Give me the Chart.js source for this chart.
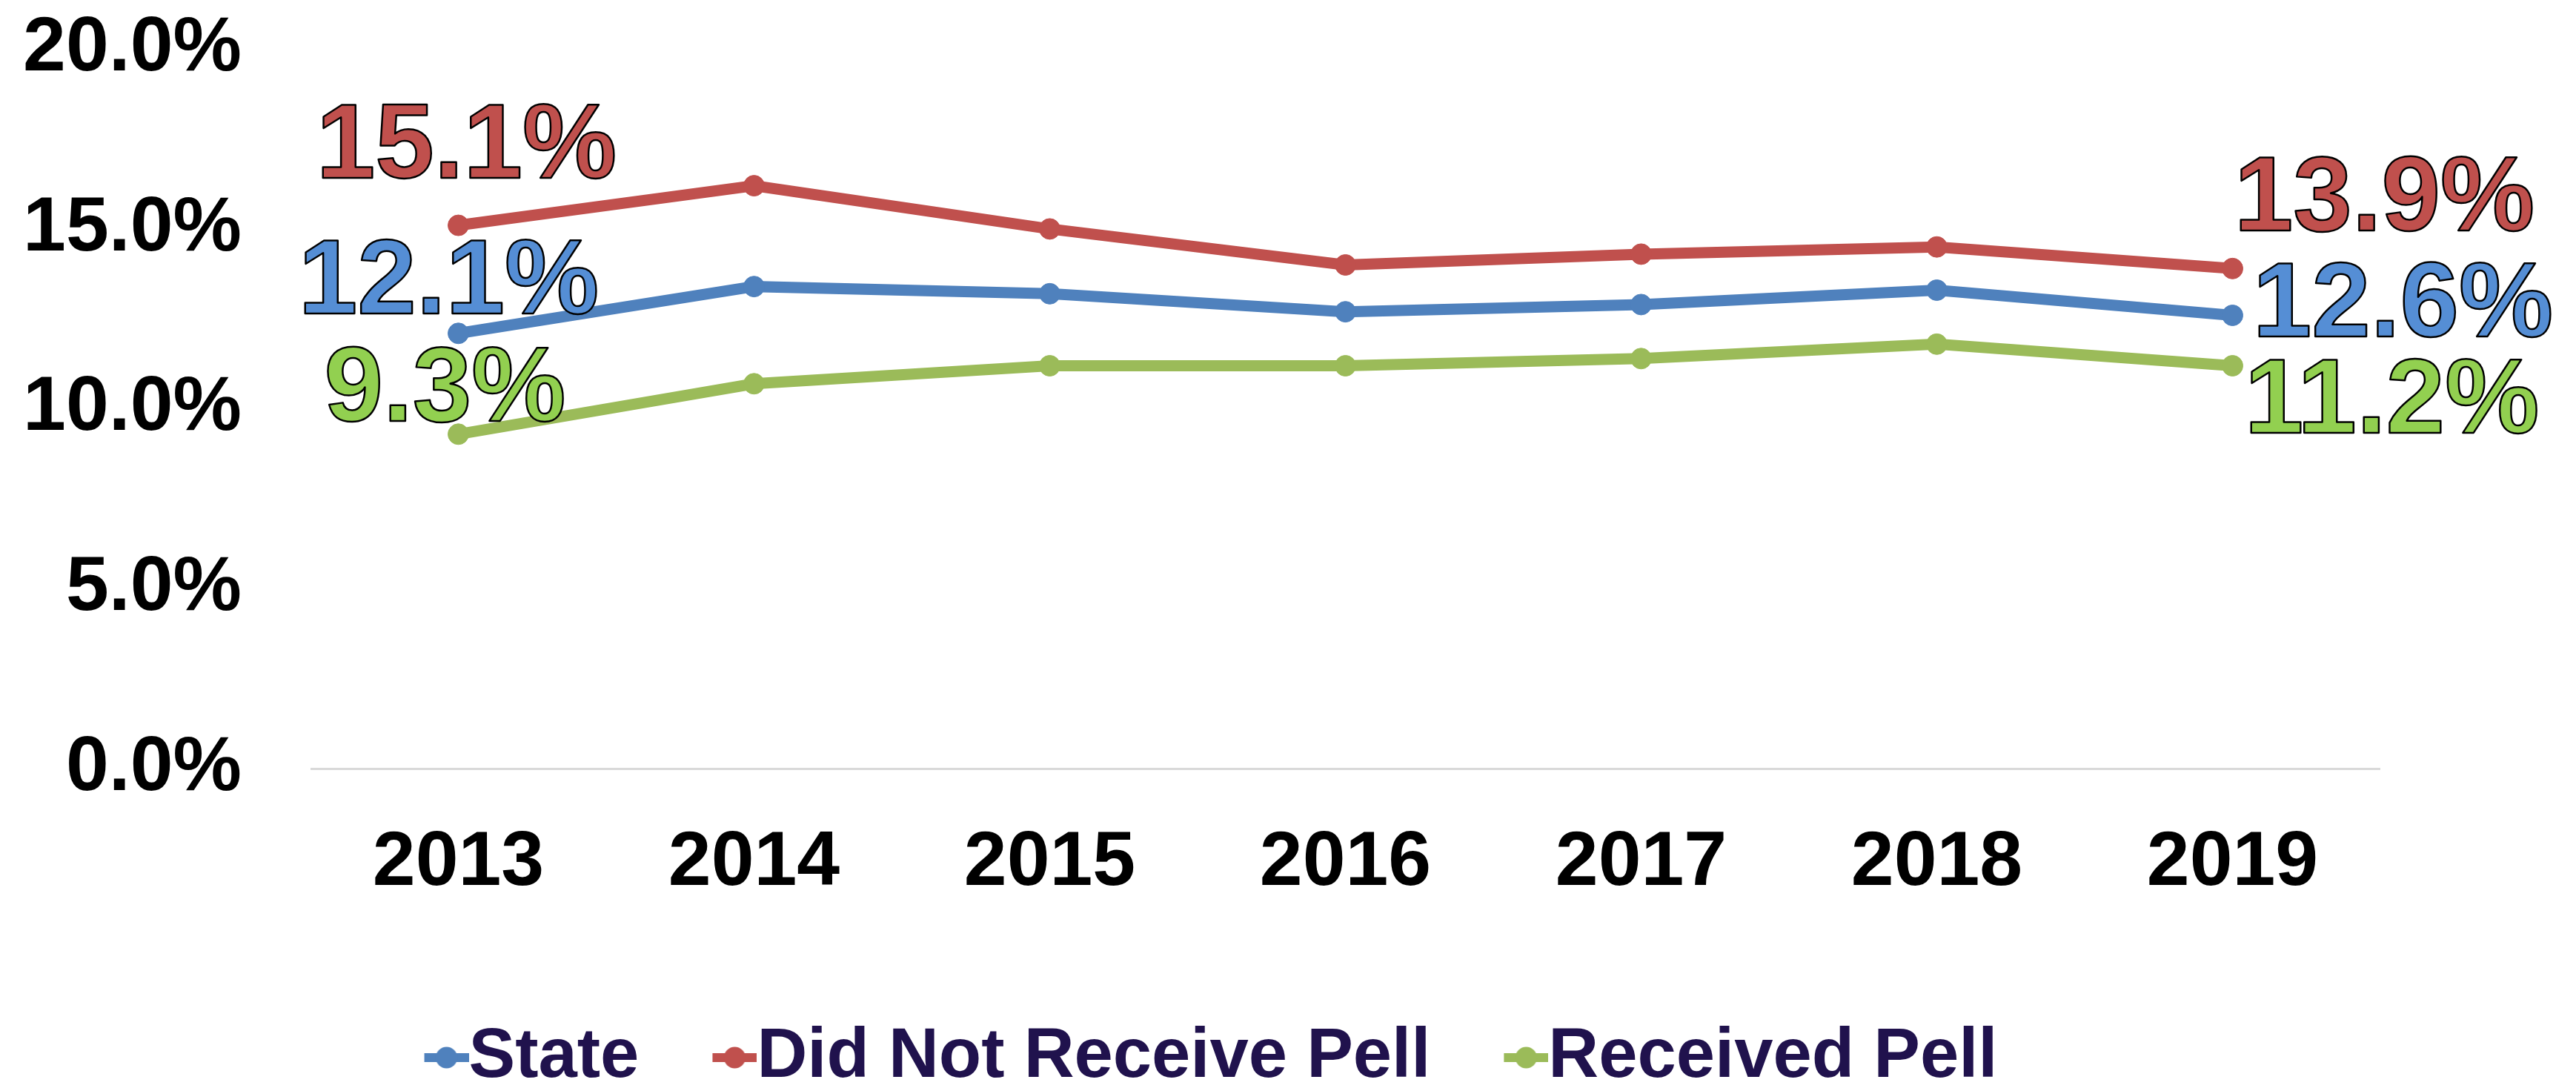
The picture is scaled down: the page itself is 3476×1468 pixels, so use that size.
<!DOCTYPE html>
<html>
<head>
<meta charset="utf-8">
<script src="https://cdn.jsdelivr.net/npm/chart.js@4"></script>
<style>
  html, body { margin: 0; padding: 0; background: #ffffff; }
  #wrap { width: 3476px; height: 1468px; }
</style>
</head>
<body>
<div id="wrap"><canvas id="c" width="3476" height="1468"></canvas></div>
<script>
// ---- data ----
const categories = ['2013', '2014', '2015', '2016', '2017', '2018', '2019'];
const seriesNames = ['State', 'Did Not Receive Pell', 'Received Pell'];
const stateValues = [12.1, 13.4, 13.2, 12.7, 12.9, 13.3, 12.6];
const notPellValues = [15.1, 16.2, 15.0, 14.0, 14.3, 14.5, 13.9];
const pellValues = [9.3, 10.7, 11.2, 11.2, 11.4, 11.8, 11.2];
const yMin = 0, yMax = 20, yStep = 5;

// ---- styles ----
const FONT = "'Liberation Sans', Arial, Helvetica, sans-serif";
const lineColors = ['#4F81BD', '#C0504D', '#9BBB59'];
const labelColors = ['#558ED5', '#C0504D', '#92D050'];
// label offsets from first / last point (pixels)
const labelOffsets = [
  { first: [-13, -27], last: [230, 29] },
  { first: [11, -64], last: [205, -51] },
  { first: [-18, -18], last: [215, 90] }
];

function legendMarker(color) {
  const c = document.createElement('canvas');
  c.width = 95; c.height = 32;
  const g = c.getContext('2d');
  g.strokeStyle = color; g.lineWidth = 12; g.lineCap = 'butt';
  g.beginPath(); g.moveTo(35, 16); g.lineTo(95, 16); g.stroke();
  g.fillStyle = color;
  g.beginPath(); g.arc(65, 16, 14.5, 0, Math.PI * 2); g.fill();
  return c;
}
const markers = lineColors.map(legendMarker);

const endLabels = {
  id: 'endLabels',
  afterDatasetsDraw(chart) {
    const ctx = chart.ctx;
    ctx.save();
    ctx.font = 'bold 143px ' + FONT;
    ctx.textAlign = 'center';
    ctx.textBaseline = 'alphabetic';
    ctx.lineJoin = 'round';
    chart.data.datasets.forEach((ds, i) => {
      const meta = chart.getDatasetMeta(i);
      const pts = meta.data;
      const idx = [0, pts.length - 1];
      idx.forEach((k, j) => {
        const p = pts[k];
        const off = j === 0 ? labelOffsets[i].first : labelOffsets[i].last;
        const txt = ds.data[k].toFixed(1) + '%';
        ctx.fillStyle = labelColors[i];
        ctx.fillText(txt, p.x + off[0], p.y + off[1]);
        ctx.strokeStyle = '#000000';
        ctx.lineWidth = 2.5;
        ctx.strokeText(txt, p.x + off[0], p.y + off[1]);
      });
    });
    ctx.restore();
  }
};

function makeDataset(name, values, color) {
  return {
    label: name,
    data: values,
    borderColor: color,
    backgroundColor: color,
    borderWidth: 15,
    pointRadius: 14,
    pointBorderWidth: 1,
    pointBorderColor: color,
    pointBackgroundColor: color,
    tension: 0,
    fill: false
  };
}

new Chart(document.getElementById('c'), {
  type: 'line',
  data: {
    labels: categories,
    datasets: [
      makeDataset(seriesNames[0], stateValues, lineColors[0]),
      makeDataset(seriesNames[1], notPellValues, lineColors[1]),
      makeDataset(seriesNames[2], pellValues, lineColors[2])
    ]
  },
  options: {
    responsive: false,
    devicePixelRatio: 1,
    animation: false,
    layout: { padding: { top: 66, right: 196, bottom: 0, left: 0 } },
    plugins: {
      title: { display: false },
      tooltip: { enabled: false },
      legend: {
        display: true,
        position: 'bottom',
        align: 'center',
        maxHeight: 199,
        labels: {
          usePointStyle: true,
          boxWidth: 1,
          padding: 111,
          color: '#20124D',
          font: { family: FONT, size: 94, weight: 'bold' },
          generateLabels(chart) {
            const items = Chart.defaults.plugins.legend.labels.generateLabels(chart);
            items.forEach((it, i) => { it.pointStyle = markers[i]; });
            return items;
          }
        }
      }
    },
    scales: {
      x: {
        type: 'category',
        offset: true,
        grid: { display: false, drawTicks: false },
        border: { display: false },
        ticks: {
          color: '#000000',
          padding: 65,
          maxRotation: 0,
          font: { family: FONT, size: 104, weight: 'bold' }
        },
        afterFit(s) { s.height = 231.4; }
      },
      y: {
        position: 'left',
        min: yMin,
        max: yMax,
        border: { display: false },
        grid: {
          drawTicks: false,
          lineWidth: 3,
          color: (c) => (c.tick && c.tick.value === 0 ? '#D9D9D9' : 'rgba(0,0,0,0)')
        },
        ticks: {
          stepSize: yStep,
          padding: 93,
          color: '#000000',
          font: { family: FONT, size: 104, weight: 'bold', lineHeight: 1.0 },
          callback: (v) => Number(v).toFixed(1) + '%'
        },
        afterFit(s) { s.width = 419; s.paddingTop = 0; s.paddingBottom = 0; }
      },
      yRight: {
        position: 'right',
        display: true,
        grid: { display: false, drawTicks: false },
        border: { display: false },
        ticks: { display: false },
        afterFit(s) { s.width = 68; s.paddingTop = 0; s.paddingBottom = 0; }
      }
    }
  },
  plugins: [endLabels]
});
</script>
</body>
</html>
